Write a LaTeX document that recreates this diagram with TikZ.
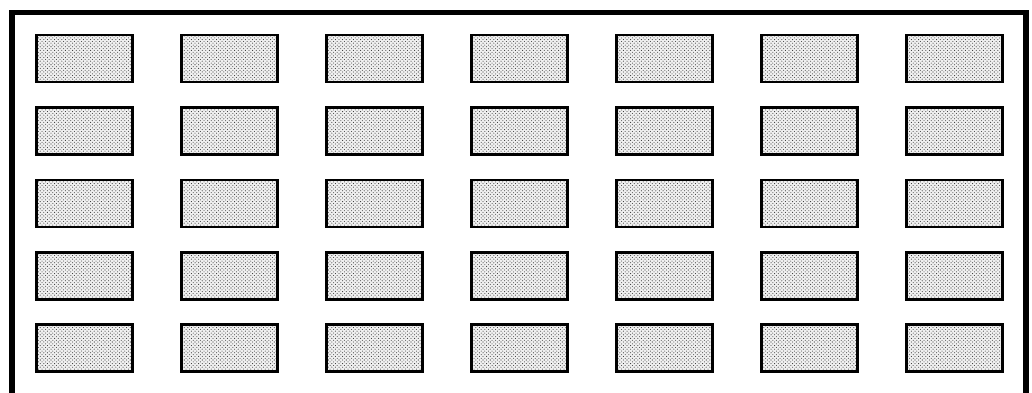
\documentclass[tikz,border=0pt]{standalone}
\usetikzlibrary{patterns}
\pgfdeclarepatternformonly{stipple}{\pgfqpoint{-1pt}{-1pt}}{\pgfqpoint{4pt}{4pt}}{\pgfqpoint{3.6pt}{3.6pt}}{%
  \pgfpathcircle{\pgfqpoint{0.6pt}{0.6pt}}{0.55pt}%
  \pgfpathcircle{\pgfqpoint{2.4pt}{2.3pt}}{0.5pt}%
  \pgfusepath{fill}}
\begin{document}
\begin{tikzpicture}[x=1pt,y=-1pt,
  cell/.style={draw=black, line width=2.6pt, minimum width=96pt, minimum height=47pt,
    inner sep=0pt, outer sep=0pt, preaction={fill=gray!12},
    pattern=stipple, pattern color=black!80},
  frame/.style={line width=5.5pt, line join=miter}]
\useasboundingbox (0,0) rectangle (1032,393);
\coordinate (bl) at (12,393);
\coordinate (tl) at (12,12.5);
\coordinate (tr) at (1026,12.5);
\coordinate (br) at (1026,393);
\draw[frame] (bl) -- (tl) -- (tr) -- (br);
\foreach \i in {0,...,6}{
  \foreach \j in {0,...,4}{
    \node[cell] (r-\i-\j) at ({84.5+145*\i},{58.5+72.4*\j}) {};
  }
}
\end{tikzpicture}
\end{document}
